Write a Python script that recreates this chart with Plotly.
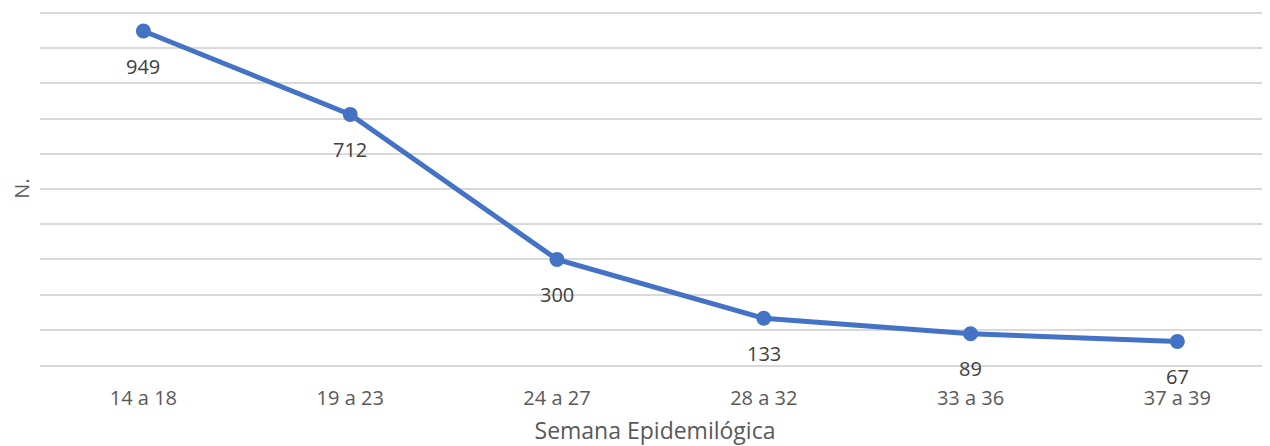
import plotly.graph_objects as go

# chart data
semanas = ['14 a 18', '19 a 23', '24 a 27', '28 a 32', '33 a 36', '37 a 39']
casos = [949, 712, 300, 133, 89, 67]

FONT = 'Open Sans'
GREY = '#595959'
BLUE = '#4472C4'

fig = go.Figure()
fig.add_trace(go.Scatter(x=list(range(len(semanas))),
                         y=casos,
                         mode='lines+markers',
                         line=dict(color=BLUE, width=5),
                         marker=dict(color=BLUE, size=15),
                         hoverinfo='skip',
                         showlegend=False))

# data labels below each point
for i, v in enumerate(casos):
    fig.add_annotation(x=i, y=v, text=str(v), showarrow=False,
                       yshift=-35, yanchor='middle',
                       font=dict(family=FONT, size=20, color='#404040'))

# page body has an 8px margin, so the figure is a bit smaller than the window
fig.update_layout(width=1262, height=438,
                  margin=dict(l=32, r=0, t=4, b=81),
                  plot_bgcolor='white', paper_bgcolor='white',
                  font=dict(family=FONT, size=20, color=GREY))
fig.update_xaxes(tickmode='array', tickvals=list(range(len(semanas))), ticktext=semanas,
                 range=[-0.5, 5.448], showgrid=False, zeroline=False,
                 showline=True, linecolor='#d9d9d9', linewidth=1.5,
                 ticks='', ticklabelstandoff=14,
                 title=dict(text='Semana Epidemilógica', standoff=17,
                            font=dict(family=FONT, size=23, color=GREY)))
fig.update_yaxes(range=[0, 1003], dtick=100, showticklabels=False,
                 gridcolor='#d9d9d9', gridwidth=1.5, zeroline=False,
                 title=dict(text='N.', standoff=16,
                            font=dict(family=FONT, size=20, color=GREY)))

fig.write_html('out.html')
